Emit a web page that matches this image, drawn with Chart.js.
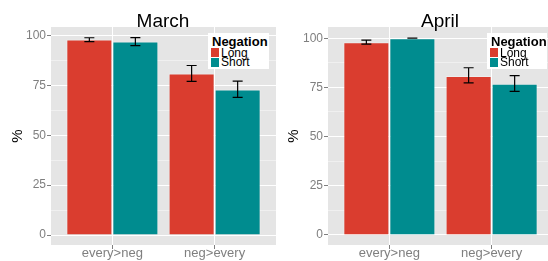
<!DOCTYPE html>
<html>
<head>
<meta charset="utf-8">
<script src="https://cdn.jsdelivr.net/npm/chart.js@4.4.1/dist/chart.umd.min.js"></script>
<style>
    html, body { margin: 0; padding: 0; background: #fff; }
    #page { position: relative; width: 548px; height: 261px; overflow: hidden; font-family: 'Liberation Sans', Arial, sans-serif; }
    canvas { position: absolute; top: 0; }
    .title { position: absolute; top: 10.5px; font-size: 19px; line-height: 19px; color: #000; text-align: center; width: 200px; }
    .legend { position: absolute; top: 33px; height: 36px; background: #fff; }
    .legend span { position: absolute; white-space: nowrap; color: #000; }
    .legend .head { left: 4px; top: 2px; font-size: 13px; line-height: 13px; font-weight: bold; }
    .legend .lab { left: 13px; font-size: 12px; line-height: 12px; }
    .legend .sw { position: absolute; left: 3px; width: 8px; height: 9px; }
</style>
</head>
<body>
<div id="page">
    <canvas id="marchChart" width="276" height="261" style="left:0"></canvas>
    <canvas id="aprilChart" width="277" height="261" style="left:276px"></canvas>

    <div class="title" style="left:63px">March</div>
    <div class="title" style="left:340px">April</div>

    <div class="legend" style="left:208px; width:61px">
        <span class="head">Negation</span>
        <div class="sw" style="top:15px; background:#DA3D2F"></div>
        <div class="sw" style="top:25px; background:#008C8F"></div>
        <span class="lab" style="top:13.5px">Long</span>
        <span class="lab" style="top:23px">Short</span>
    </div>
    <div class="legend" style="left:487px; width:60px">
        <span class="head">Negation</span>
        <div class="sw" style="top:15px; background:#DA3D2F"></div>
        <div class="sw" style="top:25px; background:#008C8F"></div>
        <span class="lab" style="top:13.5px">Long</span>
        <span class="lab" style="top:23px">Short</span>
    </div>
</div>

<script>
// Data
const categories = ['every>neg', 'neg>every'];

const marchLong = [98, 81];
const marchLongLo = [97, 77];
const marchLongHi = [98.9, 85];
const marchShort = [97, 73];
const marchShortLo = [95, 69];
const marchShortHi = [99, 77.2];

const aprilLong = [98, 80.8];
const aprilLongLo = [97, 77.3];
const aprilLongHi = [99, 85];
const aprilShort = [100, 76.8];
const aprilShortLo = [100, 73];
const aprilShortHi = [100, 81];

const majorTicks = [0, 25, 50, 75, 100];
const minorTicks = [12.5, 37.5, 62.5, 87.5];

const colors = {
    long: '#DA3D2F',
    short: '#008C8F',
    panel: '#E5E5E5',
    minor: '#F2F2F2',
    tickText: '#7F7F7F'
};

const FONT = "'Liberation Sans', Arial, sans-serif";

// Plugins
const panelBackground = {
    id: 'panelBackground',
    beforeDraw(chart) {
        const { ctx, chartArea: a } = chart;
        ctx.save();
        ctx.fillStyle = colors.panel;
        ctx.fillRect(a.left, a.top, a.right - a.left, a.bottom - a.top);
        ctx.restore();
    }
};

const errorBars = {
    id: 'errorBars',
    afterDatasetsDraw(chart) {
        const { ctx } = chart;
        const y = chart.scales.y;
        ctx.save();
        ctx.strokeStyle = '#000';
        ctx.lineWidth = 1.2;
        chart.data.datasets.forEach((ds, d) => {
            const meta = chart.getDatasetMeta(d);
            meta.data.forEach((bar, i) => {
                const top = y.getPixelForValue(ds.errHi[i]);
                const bottom = y.getPixelForValue(ds.errLo[i]);
                ctx.beginPath();
                ctx.moveTo(bar.x, top);
                ctx.lineTo(bar.x, bottom);
                ctx.moveTo(bar.x - 5, top);
                ctx.lineTo(bar.x + 5, top);
                ctx.moveTo(bar.x - 5, bottom);
                ctx.lineTo(bar.x + 5, bottom);
                ctx.stroke();
            });
        });
        ctx.restore();
    }
};

function points(values) {
    return values.map((v, i) => ({ x: i + 1, y: v }));
}

function isMajor(ctx) {
    return ctx.tick && majorTicks.includes(ctx.tick.value);
}

function createPanel(id, long, longLo, longHi, short, shortLo, shortHi, yMin, yMax, axisWidth) {
    const ctx = document.getElementById(id).getContext('2d');
    return new Chart(ctx, {
        type: 'bar',
        data: {
            datasets: [
                {
                    label: 'Long',
                    data: points(long),
                    errLo: longLo,
                    errHi: longHi,
                    backgroundColor: colors.long,
                    borderColor: 'rgba(255,255,255,0.3)',
                    borderWidth: 1
                },
                {
                    label: 'Short',
                    data: points(short),
                    errLo: shortLo,
                    errHi: shortHi,
                    backgroundColor: colors.short,
                    borderColor: 'rgba(255,255,255,0.3)',
                    borderWidth: 1
                }
            ]
        },
        options: {
            responsive: false,
            animation: false,
            devicePixelRatio: 1,
            layout: { padding: { top: 27, left: 0, right: 0, bottom: 0 } },
            datasets: { bar: { categoryPercentage: 0.9, barPercentage: 1.0 } },
            scales: {
                x: {
                    type: 'linear',
                    min: 0.4,
                    max: 2.6,
                    offset: false,
                    afterBuildTicks: s => { s.ticks = categories.map((c, i) => ({ value: i + 1 })); },
                    afterFit: s => { s.height = 16; },
                    ticks: {
                        callback: v => categories[v - 1] || '',
                        color: colors.tickText,
                        font: { family: FONT, size: 13 },
                        padding: -3,
                        maxRotation: 0
                    },
                    grid: { offset: false, color: '#fff', lineWidth: 1, tickColor: colors.tickText, tickLength: 4 },
                    border: { display: false }
                },
                y: {
                    min: yMin,
                    max: yMax,
                    afterBuildTicks: s => {
                        s.ticks = majorTicks.concat(minorTicks).sort((a, b) => a - b).map(v => ({ value: v }));
                    },
                    afterFit: s => { s.width = axisWidth; },
                    ticks: {
                        callback: v => majorTicks.includes(v) ? String(v) : '',
                        color: colors.tickText,
                        font: { family: FONT, size: 12 },
                        padding: 1
                    },
                    grid: {
                        color: c => isMajor(c) ? '#fff' : colors.minor,
                        lineWidth: c => isMajor(c) ? 1 : 0.8,
                        tickColor: c => isMajor(c) ? colors.tickText : 'rgba(0,0,0,0)',
                        tickLength: 4
                    },
                    border: { display: false },
                    title: {
                        display: true,
                        text: '%',
                        color: '#000',
                        font: { family: FONT, size: 15 },
                        padding: { top: 9, bottom: 0 }
                    }
                }
            },
            plugins: {
                legend: { display: false },
                tooltip: { enabled: false }
            }
        },
        plugins: [panelBackground, errorBars]
    });
}

createPanel('marchChart', marchLong, marchLongLo, marchLongHi, marchShort, marchShortLo, marchShortHi, -5, 104.3, 51);
createPanel('aprilChart', aprilLong, aprilLongLo, aprilLongHi, aprilShort, aprilShortLo, aprilShortHi, -5.1, 105.7, 52);
</script>
</body>
</html>
